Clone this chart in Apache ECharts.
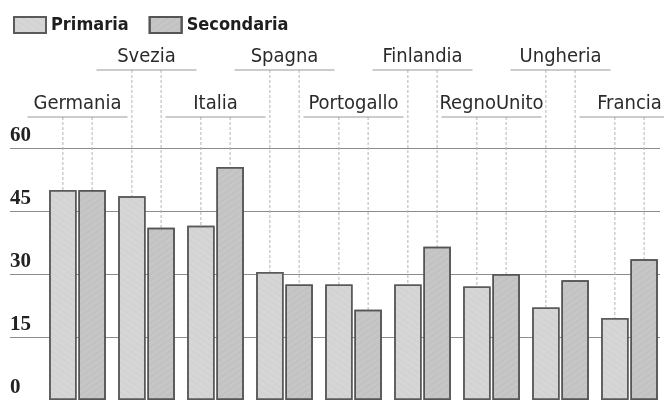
<!DOCTYPE html>
<html>
<head>
<meta charset="utf-8">
<script src="https://cdn.jsdelivr.net/npm/echarts@6/dist/echarts.min.js"></script>
<style>
  html, body { margin: 0; padding: 0; background: #fff; }
  #chart { width: 664px; height: 400px; }
</style>
</head>
<body>
<div id="chart"></div>
<script>
// data
const categories = ['Germania', 'Svezia', 'Italia', 'Spagna', 'Portogallo', 'Finlandia', 'RegnoUnito', 'Ungheria', 'Francia']
const primaria = [50, 48.5, 41.5, 30.5, 27.5, 27.5, 27, 22, 19.5]
const secondaria = [50, 41, 55.5, 27.5, 21.5, 36.5, 30, 28.5, 33.5]
const yTicks = [0, 15, 30, 45, 60]

const labelFont = '"DejaVu Sans Condensed", "DejaVu Sans", sans-serif'
const catGap = 0.18
const barGap = 0.07

const chart = echarts.init(document.getElementById('chart'))

// category labels, underlines and leader lines above each pair of bars
function renderLabel(params, api) {
  const idx = api.value(0)
  const base = api.coord([idx, 0])
  const top = api.coord([idx, yTicks[yTicks.length - 1]])
  const band = api.size([1, 0])[0]
  const barW = band * (1 - catGap) / (2 + barGap)
  const off = barW * (1 + barGap) / 2
  const lineY = idx % 2 === 0 ? top[1] - 31 : top[1] - 78
  const cx = base[0]
  const children = []
  ;[cx - off, cx + off].forEach(x => {
    children.push({
      type: 'line',
      shape: { x1: x, y1: lineY, x2: x, y2: base[1] },
      style: { stroke: '#b4b4b4', lineWidth: 1, lineDash: [3, 2] }
    })
  })
  children.push({
    type: 'line',
    shape: { x1: cx - 50, y1: lineY, x2: cx + 50, y2: lineY },
    style: { stroke: '#999', lineWidth: 1 }
  })
  children.push({
    type: 'text',
    style: {
      text: categories[idx],
      x: cx,
      y: lineY - 3,
      align: 'center',
      verticalAlign: 'bottom',
      fill: '#2a2a2a',
      font: '20px ' + labelFont
    }
  })
  return { type: 'group', children: children }
}

chart.setOption({
  animation: false,
  backgroundColor: '#fff',
  legend: {
    left: 8,
    top: 11,
    icon: 'rect',
    itemWidth: 32,
    itemHeight: 16,
    itemGap: 20,
    textStyle: {
      fontFamily: labelFont,
      fontWeight: 'bold',
      fontSize: 18,
      color: '#1e1e1e'
    },
    data: ['Primaria', 'Secondaria']
  },
  grid: [
    { left: 43, right: -2, top: 148, bottom: -3 },
    { left: 10, right: 4, top: 148, bottom: -3 }
  ],
  xAxis: [
    {
      type: 'category',
      gridIndex: 0,
      data: categories,
      axisLine: { show: false },
      axisTick: { show: false },
      axisLabel: { show: false }
    },
    { type: 'value', gridIndex: 1, show: false, min: 0, max: 1 }
  ],
  yAxis: [
    {
      type: 'value',
      gridIndex: 0,
      min: 0,
      max: 60,
      interval: 15,
      show: false,
      splitLine: { show: false }
    },
    {
      type: 'value',
      gridIndex: 1,
      min: 0,
      max: 60,
      interval: 15,
      axisLine: { show: false },
      axisTick: { show: false },
      splitLine: { lineStyle: { color: '#8c8c8c', width: 1 } },
      axisLabel: {
        inside: true,
        margin: 0,
        align: 'left',
        verticalAlign: 'bottom',
        padding: [0, 0, 2, 0],
        fontFamily: '"Liberation Serif", "DejaVu Serif", serif',
        fontWeight: 'bold',
        fontSize: 21,
        color: '#222'
      }
    }
  ],
  series: [
    {
      name: 'Primaria',
      type: 'bar',
      xAxisIndex: 0,
      yAxisIndex: 0,
      barCategoryGap: (catGap * 100) + '%',
      barGap: (barGap * 100) + '%',
      z: 3,
      itemStyle: {
        color: '#d6d6d6',
        borderColor: '#5a5a5a',
        borderWidth: 1.5,
        decal: {
          symbol: 'circle',
          symbolSize: 0.6,
          dashArrayX: [1, 0],
          dashArrayY: [2, 3],
          rotation: 0.6,
          color: 'rgba(90,90,90,0.25)'
        }
      },
      data: primaria
    },
    {
      name: 'Secondaria',
      type: 'bar',
      xAxisIndex: 0,
      yAxisIndex: 0,
      z: 3,
      itemStyle: {
        color: '#c6c6c6',
        borderColor: '#555',
        borderWidth: 1.5,
        decal: {
          symbol: 'circle',
          symbolSize: 0.6,
          dashArrayX: [1, 0],
          dashArrayY: [2, 3],
          rotation: -0.6,
          color: 'rgba(80,80,80,0.3)'
        }
      },
      data: secondaria
    },
    {
      type: 'custom',
      xAxisIndex: 0,
      yAxisIndex: 0,
      z: 1,
      silent: true,
      renderItem: renderLabel,
      data: categories.map((c, i) => [i])
    }
  ]
})
</script>
</body>
</html>
